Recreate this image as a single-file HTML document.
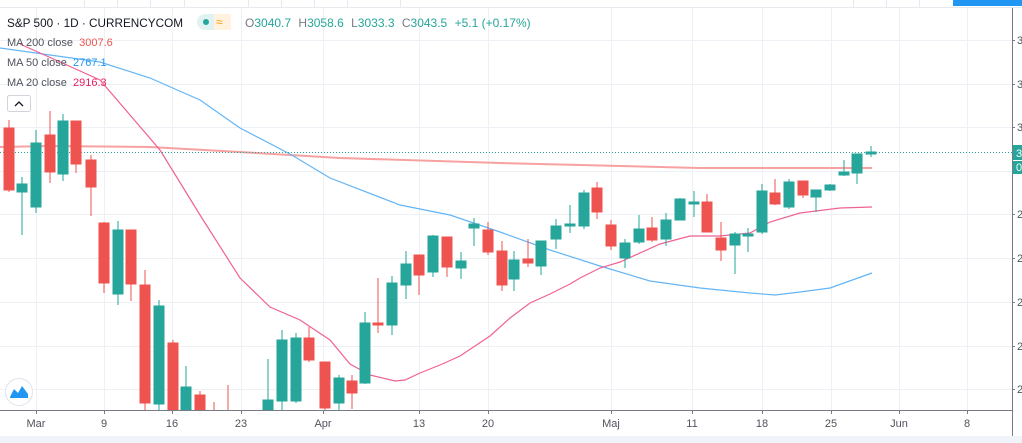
<!DOCTYPE html>
<html><head><style>
body{margin:0;width:1022px;height:443px;overflow:hidden;background:#fff;font-family:"Liberation Sans",sans-serif;}
</style></head><body>
<svg width="1022" height="443" xmlns="http://www.w3.org/2000/svg" style="position:absolute;left:0;top:0">
<rect width="1022" height="443" fill="#fff"/>
<g stroke="#e6e9ee" stroke-width="1">
<line x1="0" y1="7.5" x2="1022" y2="7.5"/>
<line x1="84.5" y1="0" x2="84.5" y2="7"/><line x1="117.5" y1="0" x2="117.5" y2="7"/><line x1="150.5" y1="0" x2="150.5" y2="7"/><line x1="184.5" y1="0" x2="184.5" y2="7"/><line x1="248.5" y1="0" x2="248.5" y2="7"/><line x1="281.5" y1="0" x2="281.5" y2="7"/><line x1="314.5" y1="0" x2="314.5" y2="7"/><line x1="347.5" y1="0" x2="347.5" y2="7"/><line x1="400.5" y1="0" x2="400.5" y2="7"/><line x1="853.5" y1="0" x2="853.5" y2="7"/><line x1="886.5" y1="0" x2="886.5" y2="7"/><line x1="919.5" y1="0" x2="919.5" y2="7"/>
</g>
<rect x="953" y="0" width="69" height="6" fill="#2196f3"/>
<g stroke="#edf0f4" stroke-width="1">
<line x1="0" y1="40.5" x2="1012" y2="40.5"/><line x1="0" y1="84.5" x2="1012" y2="84.5"/><line x1="0" y1="127.5" x2="1012" y2="127.5"/><line x1="0" y1="171.5" x2="1012" y2="171.5"/><line x1="0" y1="214.5" x2="1012" y2="214.5"/><line x1="0" y1="258.5" x2="1012" y2="258.5"/><line x1="0" y1="302.5" x2="1012" y2="302.5"/><line x1="0" y1="346.5" x2="1012" y2="346.5"/><line x1="0" y1="389.5" x2="1012" y2="389.5"/>
<line x1="36.5" y1="8" x2="36.5" y2="410"/><line x1="104.5" y1="8" x2="104.5" y2="410"/><line x1="172.5" y1="8" x2="172.5" y2="410"/><line x1="241.5" y1="8" x2="241.5" y2="410"/><line x1="323.5" y1="8" x2="323.5" y2="410"/><line x1="419.5" y1="8" x2="419.5" y2="410"/><line x1="488.5" y1="8" x2="488.5" y2="410"/><line x1="611.5" y1="8" x2="611.5" y2="410"/><line x1="692.5" y1="8" x2="692.5" y2="410"/><line x1="762.5" y1="8" x2="762.5" y2="410"/><line x1="831.5" y1="8" x2="831.5" y2="410"/><line x1="899.5" y1="8" x2="899.5" y2="410"/><line x1="967.5" y1="8" x2="967.5" y2="410"/>
</g>
<polyline fill="none" stroke="#f7a1a1" stroke-width="2" points="0,147 50,146 150,147 240,152 340,158 500,163 700,168 872,168"/>
<polyline fill="none" stroke="#64b5f6" stroke-width="1.2" points="0,48 100,62 150,78 200,100 240,128 290,154 330,178 400,205 450,215 500,232 550,250 600,266 650,281 700,288 750,293 775,295 800,292 830,288 872,273"/>
<polyline fill="none" stroke="#f06292" stroke-width="1.2" points="20,44 100,80 130,115 160,150 200,215 240,278 270,307 300,320 330,340 350,364 370,375 395,381 405,380 420,373 440,365 460,356 490,336 510,318 530,303 550,294 570,284 580,278 600,268 620,262 660,244 690,236 720,236 750,233 770,222 800,213 840,208 872,207"/>
<line x1="0" y1="152.5" x2="1012" y2="152.5" stroke="#26a69a" stroke-width="1" stroke-dasharray="1,2"/>
<g>
<g fill="#ef5350" stroke="#ef5350">
<line x1="9" y1="120" x2="9" y2="192"/><rect x="4" y="128" width="10" height="62"/>
<line x1="50" y1="111" x2="50" y2="183"/><rect x="45" y="135" width="10" height="37"/>
<line x1="76" y1="121" x2="76" y2="173"/><rect x="71" y="121" width="10" height="43"/>
<line x1="91" y1="155" x2="91" y2="216"/><rect x="86" y="160" width="10" height="27"/>
<line x1="104" y1="222" x2="104" y2="293"/><rect x="99" y="223" width="10" height="60"/>
<line x1="131" y1="230" x2="131" y2="301"/><rect x="126" y="230" width="10" height="54"/>
<line x1="145" y1="270" x2="145" y2="410"/><rect x="140" y="285" width="10" height="118"/>
<line x1="173" y1="340" x2="173" y2="410"/><rect x="168" y="343" width="10" height="67"/>
<line x1="200" y1="391" x2="200" y2="410"/><rect x="195" y="395" width="10" height="15"/>
<line x1="214" y1="402" x2="214" y2="410"/>
<line x1="228" y1="385" x2="228" y2="410"/>
<line x1="309" y1="327" x2="309" y2="362"/><rect x="304" y="338" width="10" height="22"/>
<line x1="325" y1="362" x2="325" y2="410"/><rect x="320" y="362" width="10" height="46"/>
<line x1="352" y1="375" x2="352" y2="409"/><rect x="347" y="381" width="10" height="12"/>
<line x1="378" y1="278" x2="378" y2="333"/><rect x="373" y="323" width="10" height="2"/>
<line x1="419" y1="255" x2="419" y2="295"/><rect x="414" y="255" width="10" height="20"/>
<line x1="447" y1="237" x2="447" y2="277"/><rect x="442" y="237" width="10" height="30"/>
<line x1="488" y1="222" x2="488" y2="255"/><rect x="483" y="230" width="10" height="22"/>
<line x1="502" y1="241" x2="502" y2="291"/><rect x="497" y="251" width="10" height="34"/>
<line x1="528" y1="239" x2="528" y2="267"/><rect x="523" y="259" width="10" height="4"/>
<line x1="597" y1="182" x2="597" y2="219"/><rect x="592" y="188" width="10" height="24"/>
<line x1="611" y1="220" x2="611" y2="250"/><rect x="606" y="225" width="10" height="21"/>
<line x1="652" y1="217" x2="652" y2="242"/><rect x="647" y="228" width="10" height="12"/>
<line x1="707" y1="194" x2="707" y2="232"/><rect x="702" y="202" width="10" height="30"/>
<line x1="721" y1="222" x2="721" y2="261"/><rect x="716" y="238" width="10" height="12"/>
<line x1="775" y1="179" x2="775" y2="205"/><rect x="770" y="193" width="10" height="11"/>
<line x1="803" y1="181" x2="803" y2="198"/><rect x="798" y="181" width="10" height="14"/>
</g>
<g fill="#26a69a" stroke="#26a69a">
<line x1="22" y1="177" x2="22" y2="235"/><rect x="17" y="184" width="10" height="8"/>
<line x1="36" y1="130" x2="36" y2="213"/><rect x="31" y="143" width="10" height="64"/>
<line x1="63" y1="114" x2="63" y2="181"/><rect x="58" y="121" width="10" height="53"/>
<line x1="118" y1="221" x2="118" y2="305"/><rect x="113" y="230" width="10" height="64"/>
<line x1="159" y1="300" x2="159" y2="410"/><rect x="154" y="306" width="10" height="98"/>
<line x1="186" y1="366" x2="186" y2="410"/><rect x="181" y="387" width="10" height="23"/>
<line x1="268" y1="359" x2="268" y2="410"/><rect x="263" y="400" width="10" height="10"/>
<line x1="282" y1="330" x2="282" y2="410"/><rect x="277" y="340" width="10" height="61"/>
<line x1="296" y1="333" x2="296" y2="403"/><rect x="291" y="338" width="10" height="63"/>
<line x1="339" y1="375" x2="339" y2="410"/><rect x="334" y="378" width="10" height="25"/>
<line x1="365" y1="312" x2="365" y2="384"/><rect x="360" y="323" width="10" height="60"/>
<line x1="392" y1="276" x2="392" y2="335"/><rect x="387" y="283" width="10" height="42"/>
<line x1="406" y1="251" x2="406" y2="299"/><rect x="401" y="264" width="10" height="21"/>
<line x1="433" y1="235" x2="433" y2="277"/><rect x="428" y="236" width="10" height="36"/>
<line x1="461" y1="252" x2="461" y2="279"/><rect x="456" y="261" width="10" height="7"/>
<line x1="474" y1="218" x2="474" y2="246"/><rect x="469" y="224" width="10" height="4"/>
<line x1="514" y1="251" x2="514" y2="291"/><rect x="509" y="260" width="10" height="19"/>
<line x1="541" y1="241" x2="541" y2="275"/><rect x="536" y="241" width="10" height="25"/>
<line x1="556" y1="219" x2="556" y2="249"/><rect x="551" y="226" width="10" height="13"/>
<line x1="570" y1="205" x2="570" y2="233"/><rect x="565" y="224" width="10" height="2"/>
<line x1="584" y1="190" x2="584" y2="229"/><rect x="579" y="193" width="10" height="33"/>
<line x1="625" y1="239" x2="625" y2="268"/><rect x="620" y="243" width="10" height="15"/>
<line x1="639" y1="215" x2="639" y2="244"/><rect x="634" y="229" width="10" height="13"/>
<line x1="666" y1="213" x2="666" y2="246"/><rect x="661" y="220" width="10" height="19"/>
<line x1="680" y1="198" x2="680" y2="220"/><rect x="675" y="199" width="10" height="21"/>
<line x1="694" y1="191" x2="694" y2="217"/><rect x="689" y="202" width="10" height="2"/>
<line x1="735" y1="232" x2="735" y2="274"/><rect x="730" y="234" width="10" height="11"/>
<line x1="748" y1="228" x2="748" y2="252"/><rect x="743" y="234" width="10" height="2"/>
<line x1="762" y1="184" x2="762" y2="234"/><rect x="757" y="191" width="10" height="41"/>
<line x1="789" y1="179" x2="789" y2="209"/><rect x="784" y="182" width="10" height="25"/>
<line x1="816" y1="190" x2="816" y2="212"/><rect x="811" y="190" width="10" height="7"/>
<line x1="830" y1="184" x2="830" y2="191"/><rect x="825" y="185" width="10" height="5"/>
<line x1="844" y1="160" x2="844" y2="176"/><rect x="839" y="172" width="10" height="3"/>
<line x1="857" y1="154" x2="857" y2="184"/><rect x="852" y="154" width="10" height="19"/>
<line x1="871" y1="146" x2="871" y2="157"/><rect x="866" y="152" width="10" height="2"/>
</g>
</g>
<line x1="0" y1="410.5" x2="1012" y2="410.5" stroke="#787b86" stroke-width="1"/>
<line x1="1012.5" y1="8" x2="1012.5" y2="436" stroke="#787b86" stroke-width="1"/>
<g stroke="#787b86"><line x1="36.5" y1="410" x2="36.5" y2="414"/><line x1="104.5" y1="410" x2="104.5" y2="414"/><line x1="172.5" y1="410" x2="172.5" y2="414"/><line x1="241.5" y1="410" x2="241.5" y2="414"/><line x1="323.5" y1="410" x2="323.5" y2="414"/><line x1="419.5" y1="410" x2="419.5" y2="414"/><line x1="488.5" y1="410" x2="488.5" y2="414"/><line x1="611.5" y1="410" x2="611.5" y2="414"/><line x1="692.5" y1="410" x2="692.5" y2="414"/><line x1="762.5" y1="410" x2="762.5" y2="414"/><line x1="831.5" y1="410" x2="831.5" y2="414"/><line x1="899.5" y1="410" x2="899.5" y2="414"/><line x1="967.5" y1="410" x2="967.5" y2="414"/></g>
<g font-size="11" fill="#50535e" text-anchor="middle">
<text x="36" y="427">Mar</text><text x="104" y="427">9</text><text x="172" y="427">16</text><text x="241" y="427">23</text><text x="323" y="427">Apr</text><text x="419" y="427">13</text><text x="488" y="427">20</text><text x="611" y="427">Maj</text><text x="692" y="427">11</text><text x="762" y="427">18</text><text x="831" y="427">25</text><text x="899" y="427">Jun</text><text x="967" y="427">8</text>
</g>
<g font-size="11" fill="#50535e">
<text x="1017" y="44">3</text><text x="1017" y="88">3</text><text x="1017" y="131">3</text><text x="1017" y="218">2</text><text x="1017" y="262">2</text><text x="1017" y="306">2</text><text x="1017" y="350">2</text><text x="1017" y="393">2</text>
</g>
<g stroke="#787b86"><line x1="1012" y1="40.5" x2="1015" y2="40.5"/><line x1="1012" y1="84.5" x2="1015" y2="84.5"/><line x1="1012" y1="127.5" x2="1015" y2="127.5"/><line x1="1012" y1="214.5" x2="1015" y2="214.5"/><line x1="1012" y1="258.5" x2="1015" y2="258.5"/><line x1="1012" y1="302.5" x2="1015" y2="302.5"/><line x1="1012" y1="346.5" x2="1015" y2="346.5"/><line x1="1012" y1="389.5" x2="1015" y2="389.5"/></g>
<rect x="1013" y="145" width="9" height="15" fill="#26a69a"/>
<rect x="1013" y="161" width="9" height="13" fill="#26a69a"/>
<text x="1016" y="157" font-size="11" fill="#fff">3</text>
<text x="1016" y="171" font-size="11" fill="#fff">0</text>
<rect x="0" y="436" width="1022" height="7" fill="#f0f3fa"/>
<text x="7" y="27" font-size="12" fill="#131722" textLength="176" lengthAdjust="spacingAndGlyphs">S&amp;P 500 · 1D · CURRENCYCOM</text>
<rect x="197" y="14" width="34" height="16" rx="8" fill="#e0f2f1"/>
<rect x="214" y="14" width="17" height="16" fill="#fff3e0"/>
<circle cx="206" cy="22" r="3" fill="#26a69a"/>
<text x="216" y="26" font-size="12" fill="#ff9800">≈</text>
<text x="245" y="27" font-size="12" fill="#26a69a"><tspan fill="#787b86">O</tspan>3040.7 <tspan fill="#787b86" dx="4">H</tspan>3058.6 <tspan fill="#787b86" dx="4">L</tspan>3033.3 <tspan fill="#787b86" dx="4">C</tspan>3043.5 <tspan dx="4">+5.1 (+0.17%)</tspan></text>
<g font-size="11" fill="#50535e">
<text x="7" y="46">MA 200 close <tspan fill="#ef5350" dx="3">3007.6</tspan></text>
<text x="7" y="66">MA 50 close <tspan fill="#2196f3" dx="3">2767.1</tspan></text>
<text x="7" y="86">MA 20 close <tspan fill="#e91e63" dx="3">2916.3</tspan></text>
</g>
<rect x="7.5" y="95.5" width="23" height="16" rx="2" fill="#fff" stroke="#d1d4dc"/>
<path d="M15 106 L19 102 L23 106" fill="none" stroke="#131722" stroke-width="1.3"/>
<circle cx="19" cy="392" r="13.5" fill="#fff" stroke="#e0e3eb"/>
<path d="M10 397 L14 389 L18 393 L22 386 L28 394 L28 398 L10 398 Z" fill="#2196f3"/>
</svg>
</body></html>
